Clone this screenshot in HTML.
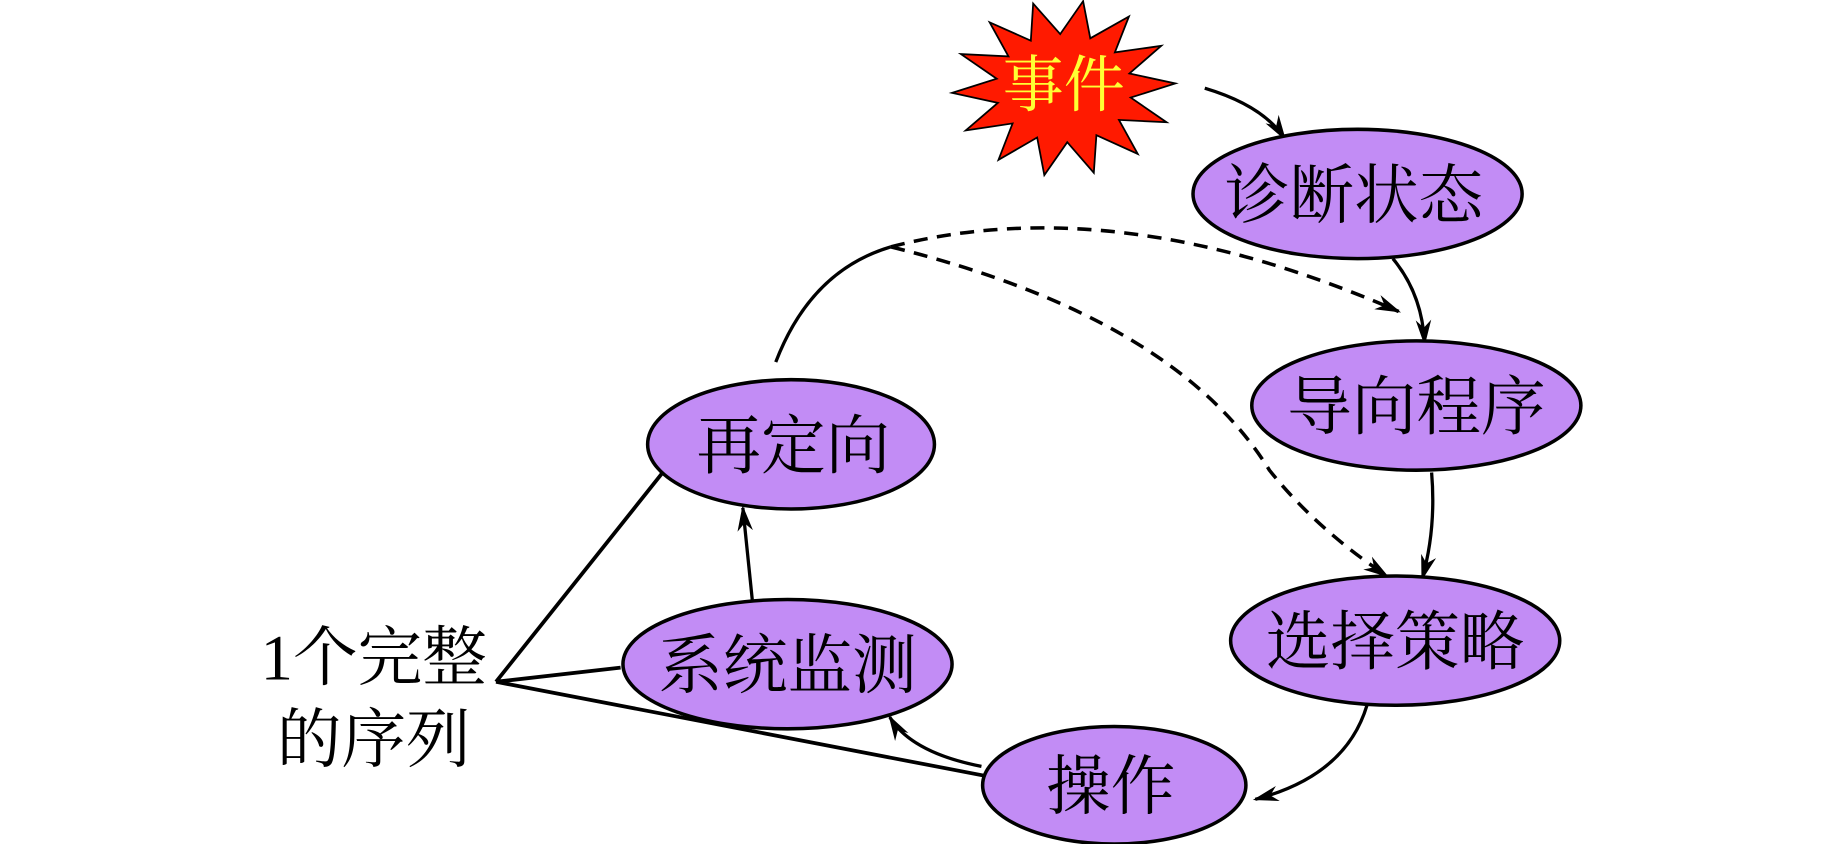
<!DOCTYPE html>
<html><head><meta charset="utf-8"><style>html,body{margin:0;padding:0;background:#fff;}svg{display:block}</style></head>
<body>
<svg width="1843" height="844" viewBox="0 0 1568 718" preserveAspectRatio="none" xmlns="http://www.w3.org/2000/svg">
<defs>
<marker id="b" viewBox="0 0 10 10" refX="9" refY="5" markerWidth="22" markerHeight="22" orient="auto" markerUnits="userSpaceOnUse"><path d="M0,2 L10,5 L0,8 L3,5 z" fill="#000"/></marker>
</defs>
<g fill="none" stroke="#000" stroke-width="2.8">
<path d="M1025,75 Q1075,90 1093,118" marker-end="url(#b)"/>
<path d="M1185,220 Q1210,250 1212,292" marker-end="url(#b)"/>
<path d="M1218,402 Q1222,450 1210,492" marker-end="url(#b)"/>
<path d="M1163,600 Q1145,660 1068,680" marker-end="url(#b)"/>
<path d="M835,652 Q775,640 757,610" marker-end="url(#b)"/>
<path d="M640,510 L632,432" marker-end="url(#b)"/>
<path d="M660,308 Q690,230 758,210"/>
<path d="M758,210 Q950,160 1190,265" stroke-dasharray="12,8" stroke-width="3" marker-end="url(#b)"/>
<path d="M758,210 Q1000,270 1080,400 Q1120,450 1180,490" stroke-dasharray="12,8" stroke-width="3" marker-end="url(#b)"/>
<path d="M422,580 L567,398 M422,580 L528,568 M422,580 L838,660" stroke-width="3.2"/>
</g>
<polygon points="921.5,1 927.6,32.6 960.5,14 948.5,44.6 988,39 960.9,62.5 1000,71 962,83 992.5,104 952,102 968,131 932.8,115 930.6,147 908,121 888.5,149 882.4,117 849.5,136 861.5,105 821.6,111 849,87.5 810,79 848,67 817.5,46 858,48 842,19 877,34.6 879,3 902,29" fill="#ff1a00" stroke="#000" stroke-width="1.5"/>
<text x="905" y="90" font-size="52" fill="#ffff33" text-anchor="middle" font-family="Liberation Serif, Noto Serif CJK SC, serif">事件</text>
<g fill="#c28cf5" stroke="#000" stroke-width="3">
<ellipse cx="1155" cy="165" rx="140" ry="55"/>
<ellipse cx="1205" cy="345" rx="140" ry="55"/>
<ellipse cx="1187" cy="545" rx="140" ry="55"/>
<ellipse cx="948" cy="668" rx="112" ry="50"/>
<ellipse cx="670" cy="565" rx="140" ry="55"/>
<ellipse cx="673" cy="378" rx="122" ry="55"/>
</g>
<g font-size="55" fill="#000" text-anchor="middle" font-family="Liberation Serif, Noto Serif CJK SC, serif">
<text x="1152" y="185">诊断状态</text>
<text x="1205" y="365">导向程序</text>
<text x="1187" y="565">选择策略</text>
<text x="945" y="688">操作</text>
<text x="670" y="585">系统监测</text>
<text x="675" y="398">再定向</text>
<text x="318" y="578">1个完整</text>
<text x="318" y="648">的序列</text>
</g>
</svg>
</body></html>
